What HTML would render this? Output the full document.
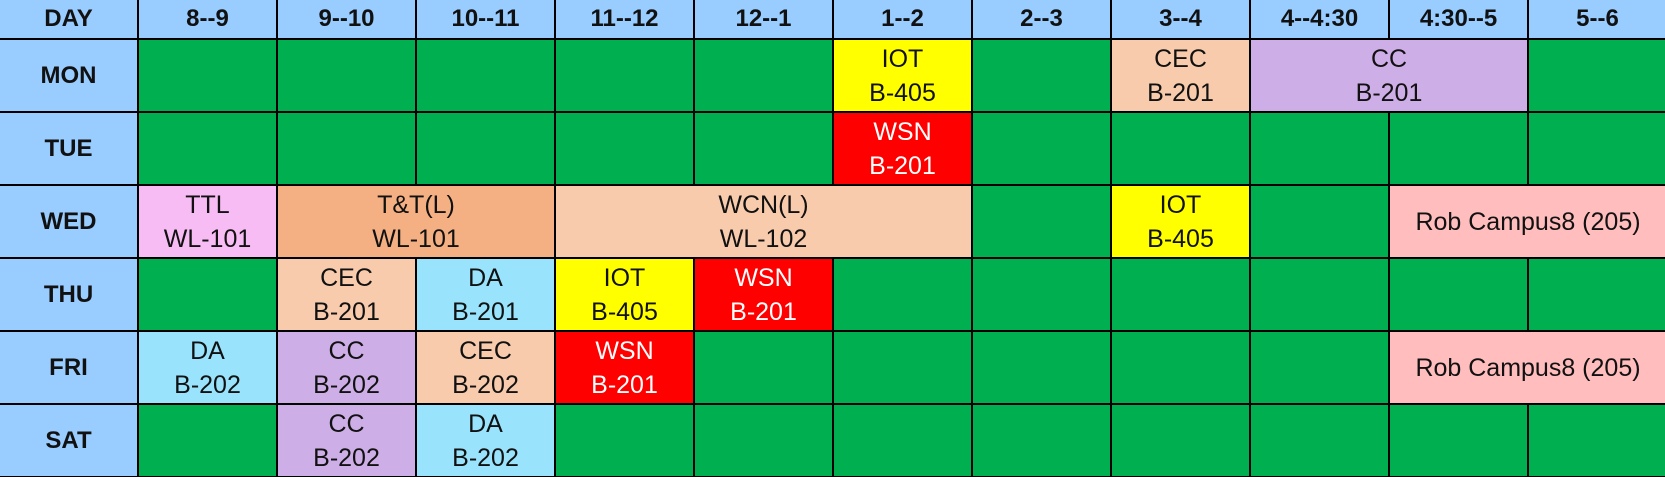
<!DOCTYPE html>
<html><head><meta charset="utf-8"><style>
html,body{margin:0;padding:0;width:1665px;height:477px;overflow:hidden;background:#fff}
#t{position:relative;width:1665px;height:477px}
.c{position:absolute;box-sizing:border-box;border-right:2px solid #000;border-bottom:2px solid #000;display:flex;flex-direction:column;align-items:center;justify-content:center;font-family:"Liberation Sans",Arial,sans-serif;font-size:25px;line-height:34px;color:#111;text-align:center}
.h{background:#99ccff;font-weight:bold;font-size:24px}
</style></head><body>
<div id="t"></div>
<script>
const times=["8--9","9--10","10--11","11--12","12--1","1--2","2--3","3--4","4--4:30","4:30--5","5--6"];
const days=["MON","TUE","WED","THU","FRI","SAT"];
// [row, startCol, span, line1, line2, color]
const classes=[
[0,6,1,"IOT","B-405","#ffff00"],[0,8,1,"CEC","B-201","#f8cbad"],[0,9,2,"CC","B-201","#cdaee6"],
[1,6,1,"WSN","B-201","#ff0000"],
[2,1,1,"TTL","WL-101","#f8bcf4"],[2,2,2,"T&T(L)","WL-101","#f4b083"],[2,4,3,"WCN(L)","WL-102","#f8cbad"],[2,8,1,"IOT","B-405","#ffff00"],[2,10,2,"Rob Campus8 (205)","","#ffbdbd"],
[3,2,1,"CEC","B-201","#f8cbad"],[3,3,1,"DA","B-201","#99e3fd"],[3,4,1,"IOT","B-405","#ffff00"],[3,5,1,"WSN","B-201","#ff0000"],
[4,1,1,"DA","B-202","#99e3fd"],[4,2,1,"CC","B-202","#cdaee6"],[4,3,1,"CEC","B-202","#f8cbad"],[4,4,1,"WSN","B-201","#ff0000"],[4,10,2,"Rob Campus8 (205)","","#ffbdbd"],
[5,2,1,"CC","B-202","#cdaee6"],[5,3,1,"DA","B-202","#99e3fd"]
];
const T=document.getElementById('t');
const CW=139,HH=40,RH=73;
function cell(x,y,w,h,cls,bg,html,name){
 const d=document.createElement('div');
 d.className='c '+cls;
 d.style.left=x+'px';d.style.top=y+'px';d.style.width=w+'px';d.style.height=h+'px';
 if(bg)d.style.background=bg;
 d.innerHTML=html;
 
 
 T.appendChild(d);return d;
}
cell(0,0,CW,HH,'h',null,'DAY','day-header');
times.forEach((t,i)=>cell(CW*(i+1),0,CW,HH,'h',null,t,'time-header-'+i));
days.forEach((d,r)=>{
 cell(0,HH+r*RH,CW,RH,'h',null,d,'day-label-'+d.toLowerCase());
 for(let c=1;c<=11;c++)cell(CW*c,HH+r*RH,CW,RH,'','#00b050','','free-slot');
});
classes.forEach(k=>{
 const [r,c,s,a,b,col]=k;
 const d=cell(CW*c,HH+r*RH,CW*s,RH,'',col,'<div>'+a.replace('&','&amp;')+'</div>'+(b?'<div>'+b+'</div>':''),'class-'+a.toLowerCase().replace(/[^a-z0-9]+/g,'-'));
 if(col==='#ff0000')d.style.color='#fff';
});
</script>
</body></html>
